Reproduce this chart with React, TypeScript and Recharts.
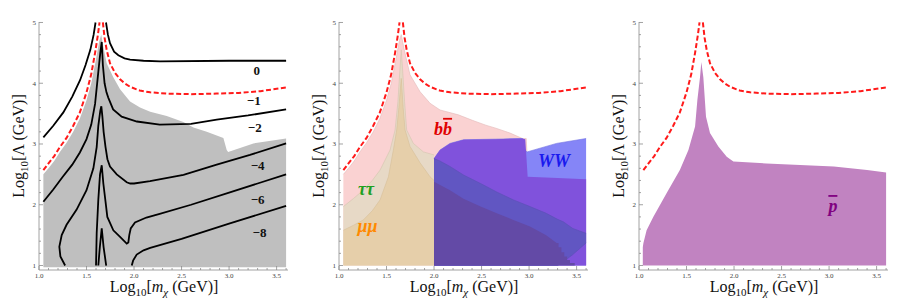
import { ComposedChart, Area, Line, Scatter, XAxis, YAxis } from "recharts"

const FONT = "'Liberation Serif', 'Times New Roman', serif"
const FRAME = "#8c8c8c"
const TICKTXT = "#444"

// frame ticks
const xMajor = [1.0, 1.5, 2.0, 2.5, 3.0, 3.5]
const xMinor = [1.1, 1.2, 1.3, 1.4, 1.6, 1.7, 1.8, 1.9, 2.1, 2.2, 2.3, 2.4, 2.6, 2.7, 2.8, 2.9, 3.1, 3.2, 3.3, 3.4, 3.6]
const yMajor = [1, 2, 3, 4, 5]
const yMinor = [1.2, 1.4, 1.6, 1.8, 2.2, 2.4, 2.6, 2.8, 3.2, 3.4, 3.6, 3.8, 4.2, 4.4, 4.6, 4.8]
const xTicks = [...xMajor, ...xMinor].sort((a, b) => a - b)
const yTicks = [...yMajor, ...yMinor].sort((a, b) => a - b)

// -1 contour, red dashed, same in all three panels
const redLeft = [
    [1.046, 2.57], [1.1, 2.68], [1.16, 2.8], [1.22, 2.95], [1.29, 3.1], [1.36, 3.3], [1.43, 3.52],
    [1.5, 3.85], [1.55, 4.15], [1.59, 4.5], [1.62, 4.8], [1.637, 5.0],
]
const redRight = [
    [1.672, 5.0], [1.69, 4.75], [1.712, 4.55], [1.747, 4.33], [1.8, 4.17], [1.85, 4.07], [1.9, 4.0],
    [1.96, 3.94], [2.06, 3.88], [2.17, 3.85], [2.34, 3.83], [2.6, 3.82], [2.87, 3.83], [3.1, 3.84],
    [3.33, 3.87], [3.6, 3.93],
]

// Indirect Combined
const grayTop = [
    [1.046, 2.5], [1.1, 2.6], [1.16, 2.72], [1.22, 2.87], [1.29, 3.02], [1.36, 3.2], [1.43, 3.42],
    [1.5, 3.72], [1.55, 4.0], [1.6, 4.4], [1.635, 4.7], [1.655, 4.8], [1.677, 4.6], [1.712, 4.33],
    [1.782, 4.1], [1.853, 3.9], [1.958, 3.7], [2.063, 3.6], [2.17, 3.53], [2.344, 3.46], [2.519, 3.36],
    [2.625, 3.27], [2.765, 3.2], [2.94, 3.1], [2.975, 2.9], [2.99, 2.87], [3.256, 3.01], [3.6, 3.09],
]
const c0Left = [
    [1.046, 3.11], [1.15, 3.3], [1.256, 3.52], [1.35, 3.78], [1.432, 4.05], [1.49, 4.3], [1.54, 4.55],
    [1.575, 4.8], [1.595, 5.0],
]
const c0Right = [
    [1.705, 5.0], [1.725, 4.8], [1.747, 4.66], [1.79, 4.52], [1.835, 4.46], [1.9, 4.41], [1.958, 4.39],
    [2.1, 4.37], [2.274, 4.36], [3.0, 4.37], [3.6, 4.37],
]
const c2 = [
    [1.046, 2.05], [1.15, 2.25], [1.25, 2.46], [1.35, 2.66], [1.43, 2.86], [1.5, 3.08], [1.55, 3.32],
    [1.59, 3.66], [1.625, 4.2], [1.645, 4.5], [1.66, 4.68], [1.672, 4.3], [1.69, 4.0], [1.71, 3.85],
    [1.73, 3.76], [1.78, 3.57], [1.87, 3.45], [2.03, 3.37], [2.27, 3.32], [2.6, 3.33], [2.87, 3.4],
    [3.2, 3.47], [3.6, 3.57],
]
const c4 = [
    [1.275, 1.0], [1.225, 1.15], [1.214, 1.31], [1.239, 1.5], [1.29, 1.67], [1.396, 1.92], [1.5, 2.24],
    [1.572, 2.6], [1.607, 2.95], [1.624, 3.3], [1.645, 3.55], [1.656, 3.62], [1.667, 3.45], [1.68, 3.2],
    [1.7, 2.95], [1.72, 2.75], [1.747, 2.63], [1.818, 2.5], [1.923, 2.37], [1.96, 2.35], [2.0, 2.35],
    [2.168, 2.39], [2.52, 2.49], [2.87, 2.66], [3.22, 2.82], [3.6, 3.01],
]
const c6 = [
    [1.6, 1.0], [1.607, 1.53], [1.624, 2.08], [1.642, 2.5], [1.66, 2.65], [1.677, 2.35], [1.7, 2.05],
    [1.719, 1.8], [1.782, 1.58], [1.853, 1.47], [1.923, 1.36], [1.94, 1.38], [1.95, 1.5], [1.965, 1.61],
    [2.01, 1.71], [2.13, 1.79], [2.27, 1.85], [2.6, 2.0], [3.0, 2.2], [3.3, 2.35], [3.6, 2.5],
]
const c8Spike = [[1.624, 1.0], [1.64, 1.3], [1.66, 1.61], [1.68, 1.3], [1.707, 1.0]]
const c8Right = [
    [1.976, 1.0], [1.99, 1.08], [2.028, 1.18], [2.1, 1.25], [2.17, 1.29], [2.5, 1.44], [3.0, 1.69], [3.6, 1.98],
]
const contourTags = [
    { x: 3.29, y: 4.14, t: "0" }, { x: 3.26, y: 3.64, t: "\u22121" }, { x: 3.27, y: 3.2, t: "\u22122" },
    { x: 3.3, y: 2.57, t: "\u22124" }, { x: 3.3, y: 2.02, t: "\u22126" }, { x: 3.32, y: 1.47, t: "\u22128" },
]

// Dwarf Bounds
const bbTop = [
    [1.046, 2.5], [1.1, 2.6], [1.16, 2.72], [1.22, 2.87], [1.29, 3.02], [1.36, 3.2], [1.43, 3.42],
    [1.5, 3.72], [1.55, 4.0], [1.6, 4.4], [1.635, 4.7], [1.655, 4.8], [1.684, 4.57], [1.747, 4.14],
    [1.853, 3.86], [1.958, 3.67], [2.063, 3.56], [2.256, 3.48], [2.403, 3.39], [2.544, 3.31], [2.65, 3.26],
    [2.8, 3.18], [2.93, 3.09], [2.97, 3.09], [2.99, 2.46], [3.3, 2.44], [3.6, 2.42],
]
const tauTop = [
    [1.046, 1.97], [1.15, 2.1], [1.256, 2.24], [1.35, 2.4], [1.432, 2.57], [1.537, 2.9], [1.59, 3.23],
    [1.62, 3.7], [1.64, 4.2], [1.655, 4.55], [1.67, 4.2], [1.69, 3.7], [1.712, 3.23], [1.782, 3.01],
    [1.888, 2.87], [2.0, 2.82],
]
const muTop = [
    [1.046, 1.58], [1.15, 1.66], [1.256, 1.75], [1.35, 1.9], [1.432, 2.08], [1.52, 2.46], [1.572, 2.9],
    [1.607, 3.23], [1.63, 3.6], [1.655, 4.08], [1.675, 3.6], [1.695, 3.23], [1.747, 2.96], [1.853, 2.69],
    [1.958, 2.46], [2.0, 2.4],
]
const wwTop = [
    [2.0, 2.76], [2.063, 2.9], [2.168, 3.01], [2.31, 3.07], [2.65, 3.08], [2.93, 3.09], [2.955, 2.9],
    [2.98, 2.87], [3.29, 3.01], [3.6, 3.09],
]
const wwBbTop = [
    [2.0, 2.76], [2.063, 2.9], [2.168, 3.01], [2.31, 3.07], [2.65, 3.08], [2.93, 3.09], [2.96, 3.08],
    [2.985, 2.46], [3.3, 2.44], [3.6, 2.42],
]
const wwTauBand = [
    [2.0, 1.0, 2.76], [2.063, 1.0, 2.72], [2.168, 1.0, 2.63], [2.31, 1.0, 2.49], [2.49, 1.0, 2.35],
    [2.66, 1.0, 2.21], [2.835, 1.0, 2.08], [3.01, 1.0, 1.97], [3.18, 1.0, 1.86], [3.3, 1.0, 1.76],
    [3.36, 1.06, 1.72], [3.46, 1.18, 1.61], [3.6, 1.37, 1.53],
]
const wwMuBand = [
    [2.0, 1, 2.38], [2.168, 1, 2.24], [2.31, 1, 2.1], [2.49, 1, 1.97], [2.66, 1, 1.86], [2.835, 1, 1.75],
    [3.01, 1, 1.64], [3.18, 1, 1.5], [3.29, 1, 1.37], [3.31, 1, 1.37], [3.31, 1, 1.3], [3.34, 1, 1.3],
    [3.34, 1, 1.22], [3.37, 1, 1.22], [3.37, 1, 1.15], [3.4, 1, 1.15], [3.4, 1, 1.09], [3.43, 1, 1.09],
    [3.43, 1, 1.04], [3.48, 1, 1.04], [3.48, 1, 1.0],
]
const dwarfTags = [
    { x: 2.095, y: 3.15, t: "bb" }, { x: 3.263, y: 2.62, t: "WW" },
    { x: 1.284, y: 2.16, t: "\u03c4\u03c4" }, { x: 1.3, y: 1.55, t: "\u03bc\u03bc" },
]

// gamma gamma / gamma Z / pbar
const pbarTop = [
    [1.04, 1.0], [1.04, 1.3], [1.046, 1.365], [1.08, 1.58], [1.15, 1.8], [1.29, 2.19], [1.43, 2.57],
    [1.52, 2.9], [1.59, 3.29], [1.614, 3.72], [1.642, 4.1], [1.656, 4.35], [1.677, 4.1], [1.705, 3.45],
    [1.747, 3.18], [1.835, 2.96], [1.923, 2.79], [1.993, 2.71], [2.34, 2.68], [3.05, 2.63], [3.4, 2.57],
    [3.6, 2.53],
]
const pbarTags = [{ x: 3.04, y: 1.88, t: "p" }]

const pts = (a: number[][]) => a.map(([x, y]) => ({ x, y }))
const band = (a: number[][]) => a.map(([x, lo, hi]) => ({ x, r: [lo, hi] }))

const tagColor: Record<string, string> = {
    bb: "#e00000", WW: "#1a1aee", "\u03c4\u03c4": "#1fa01f", "\u03bc\u03bc": "#ff8a00", p: "#800080",
}

function BottomTick({ x, y, payload }: any) {
    const major = xMajor.includes(payload.value)
    return (
        <g>
            <line x1={x} x2={x} y1={y} y2={y - (major ? 4 : 2)} stroke={FRAME} strokeWidth={0.8} />
            {major && (
                <text x={x} y={y + 7.5} textAnchor="middle" fontFamily={FONT} fontSize={7} fill={TICKTXT}>
                    {payload.value.toFixed(1)}
                </text>
            )}
        </g>
    )
}

function TopTick({ x, y, payload }: any) {
    const major = xMajor.includes(payload.value)
    return <line x1={x} x2={x} y1={y} y2={y + (major ? 4 : 2)} stroke={FRAME} strokeWidth={0.8} />
}

function LeftTick({ x, y, payload }: any) {
    const major = yMajor.includes(payload.value)
    return (
        <g>
            <line x1={x} x2={x + (major ? 4 : 2)} y1={y} y2={y} stroke={FRAME} strokeWidth={0.8} />
            {major && (
                <text x={x - 3} y={y + 2.5} textAnchor="end" fontFamily={FONT} fontSize={7} fill={TICKTXT}>
                    {payload.value}
                </text>
            )}
        </g>
    )
}

function RightTick({ x, y, payload }: any) {
    const major = yMajor.includes(payload.value)
    return <line x1={x} x2={x - (major ? 4 : 2)} y1={y} y2={y} stroke={FRAME} strokeWidth={0.8} />
}

function XTitle() {
    return (
        <text x={164} y={292} textAnchor="middle" fontFamily={FONT} fontSize={16} fill="#111">
            Log<tspan fontSize={11} dy={4}>10</tspan>
            <tspan dy={-4}>[</tspan>
            <tspan fontStyle="italic">m</tspan>
            <tspan fontStyle="italic" fontSize={11} dy={4}>{"\u03c7"}</tspan>
            <tspan dy={-4}> (GeV)]</tspan>
        </text>
    )
}

function YTitle() {
    return (
        <text x={24} y={146} transform="rotate(-90 24 146)" textAnchor="middle" fontFamily={FONT} fontSize={16} fill="#111">
            Log<tspan fontSize={11} dy={4}>10</tspan>
            <tspan dy={-4}>[{"\u039b"} (GeV)]</tspan>
        </text>
    )
}

function PanelTitle({ which }: any) {
    const common = { x: 163.5, y: 15.5, textAnchor: "middle" as const, fontFamily: FONT, fontSize: 17, fill: "#111" }
    if (which === 2) {
        return (
            <text {...common}>
                <tspan fontStyle="italic">{"\u03b3\u03b3"}</tspan>/<tspan fontStyle="italic">{"\u03b3"}</tspan>Z/
                <tspan fontStyle="italic" style={{ textDecoration: "overline" }}>p</tspan> Bounds
            </text>
        )
    }
    return <text {...common}>{which === 0 ? "Indirect Combined" : "Dwarf Bounds"}</text>
}

function ContourTag(p: any) {
    return (
        <text x={p.cx} y={p.cy} textAnchor="middle" fontFamily={FONT} fontSize={13} fontWeight="bold" fill="#111">
            {p.payload.t}
        </text>
    )
}

function ChannelTag(p: any) {
    const t = p.payload.t
    const fill = tagColor[t]
    return (
        <text x={p.cx} y={p.cy} textAnchor="middle" fontFamily={FONT} fontSize={18} fontWeight="bold" fontStyle="italic" fill={fill}>
            {t === "bb" ? (
                <>
                    <tspan>b</tspan>
                    <tspan style={{ textDecoration: "overline" }}>b</tspan>
                </>
            ) : t === "p" ? (
                <tspan style={{ textDecoration: "overline" }}>p</tspan>
            ) : (
                t
            )}
        </text>
    )
}

function frame(which: number) {
    const line = { stroke: FRAME, strokeWidth: 0.8 }
    return [
        <XAxis key="xb" dataKey="x" type="number" domain={[1.0, 3.62]} allowDataOverflow ticks={xTicks} interval={0}
            height={38} tickSize={0} tickMargin={0} tickLine={false} axisLine={line} tick={<BottomTick />} label={<XTitle />} />,
        <XAxis key="xt" xAxisId="top" orientation="top" dataKey="x" type="number" domain={[1.0, 3.62]} allowDataOverflow
            ticks={xTicks} interval={0} height={0} tickSize={0} tickMargin={0} tickLine={false} axisLine={line}
            tick={<TopTick />} label={<PanelTitle which={which} />} />,
        <YAxis key="yl" dataKey="y" type="number" domain={[0.926, 5.008]} allowDataOverflow ticks={yTicks} interval={0}
            width={39} tickSize={0} tickMargin={0} tickLine={false} axisLine={line} tick={<LeftTick />} label={<YTitle />} />,
        <YAxis key="yr" yAxisId="right" orientation="right" dataKey="y" type="number" domain={[0.926, 5.008]} allowDataOverflow
            ticks={yTicks} interval={0} width={0} tickSize={0} tickMargin={0} tickLine={false} axisLine={line} tick={<RightTick />} />,
    ]
}

function redDashed() {
    return [
        <Line key="rl" data={pts(redLeft)} dataKey="y" type="linear" dot={false} stroke="#ff1a1a" strokeWidth={2}
            strokeDasharray="5 2.5" isAnimationActive={false} />,
        <Line key="rr" data={pts(redRight)} dataKey="y" type="linear" dot={false} stroke="#ff1a1a" strokeWidth={2}
            strokeDasharray="5 2.5" isAnimationActive={false} />,
    ]
}

const M = { top: 22, right: 12, left: 0, bottom: 0 }
const blackLine = { type: "linear" as const, dataKey: "y", dot: false, stroke: "#000", strokeWidth: 1.8, isAnimationActive: false }

export default function App() {
    return (
        <div style={{ position: "absolute", left: 0, top: 0, width: 900, height: 308, background: "#fff" }}>
            <div style={{ position: "absolute", left: 0, top: 0 }}>
                <ComposedChart width={300} height={308} margin={M}>
                    {frame(0)}
                    <Area data={pts(grayTop)} dataKey="y" type="linear" baseValue={0.97} fill="#bfbfbf" fillOpacity={1}
                        stroke="none" isAnimationActive={false} />
                    <Line data={pts(c0Left)} {...blackLine} />
                    <Line data={pts(c0Right)} {...blackLine} />
                    <Line data={pts(c2)} {...blackLine} />
                    <Line data={pts(c4)} {...blackLine} />
                    <Line data={pts(c6)} {...blackLine} />
                    <Line data={pts(c8Spike)} {...blackLine} />
                    <Line data={pts(c8Right)} {...blackLine} />
                    {redDashed()}
                    <Scatter data={contourTags} dataKey="y" shape={<ContourTag />} isAnimationActive={false} />
                </ComposedChart>
            </div>
            <div style={{ position: "absolute", left: 300, top: 0 }}>
                <ComposedChart width={300} height={308} margin={M}>
                    {frame(1)}
                    <Area data={pts(bbTop)} dataKey="y" type="linear" baseValue={1} fill="#fad2d2" fillOpacity={1}
                        stroke="#e3b8b8" strokeWidth={0.6} isAnimationActive={false} />
                    <Area data={pts(tauTop)} dataKey="y" type="linear" baseValue={1} fill="#e7d9c6" fillOpacity={1}
                        stroke="#d4c4ae" strokeWidth={0.6} isAnimationActive={false} />
                    <Area data={pts(muTop)} dataKey="y" type="linear" baseValue={1} fill="#e6cfaa" fillOpacity={1}
                        stroke="#d6bf98" strokeWidth={0.6} isAnimationActive={false} />
                    <Area data={pts(wwTop)} dataKey="y" type="linear" baseValue={1} fill="#8585f7" fillOpacity={1}
                        stroke="#6f6fe0" strokeWidth={0.6} isAnimationActive={false} />
                    <Area data={pts(wwBbTop)} dataKey="y" type="linear" baseValue={1} fill="#8052dc" fillOpacity={1}
                        stroke="none" isAnimationActive={false} />
                    <Area data={band(wwTauBand)} dataKey="r" type="linear" fill="#6156c2" fillOpacity={1}
                        stroke="#5a4fb5" strokeWidth={0.6} isAnimationActive={false} />
                    <Area data={band(wwMuBand)} dataKey="r" type="linear" fill="#634aa6" fillOpacity={1}
                        stroke="none" isAnimationActive={false} />
                    {redDashed()}
                    <Scatter data={dwarfTags} dataKey="y" shape={<ChannelTag />} isAnimationActive={false} />
                </ComposedChart>
            </div>
            <div style={{ position: "absolute", left: 600, top: 0 }}>
                <ComposedChart width={300} height={308} margin={M}>
                    {frame(2)}
                    <Area data={pts(pbarTop)} dataKey="y" type="linear" baseValue={1} fill="#c183c1" fillOpacity={1}
                        stroke="none" isAnimationActive={false} />
                    {redDashed()}
                    <Scatter data={pbarTags} dataKey="y" shape={<ChannelTag />} isAnimationActive={false} />
                </ComposedChart>
            </div>
        </div>
    )
}
